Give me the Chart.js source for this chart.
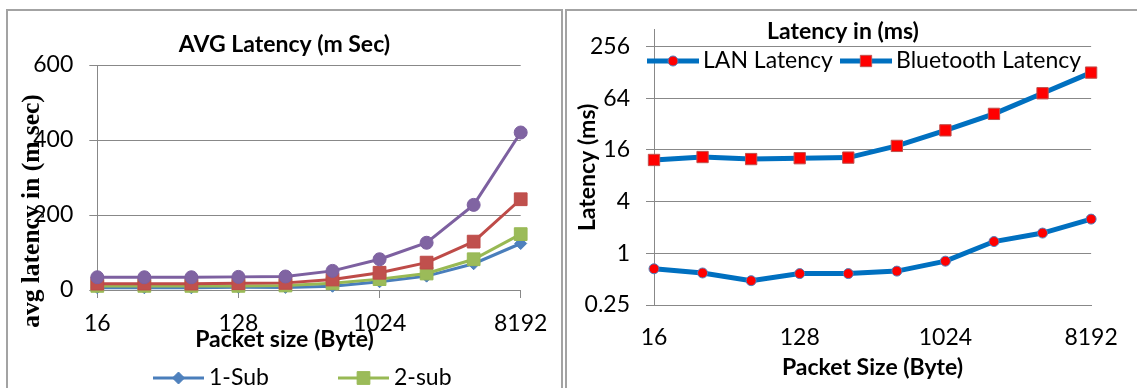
<!DOCTYPE html>
<html>
<head>
<meta charset="utf-8">
<script src="https://cdn.jsdelivr.net/npm/chart.js@4.4.1/dist/chart.umd.min.js"></script>
<style>
    html, body { margin: 0; padding: 0; background: #fff; width: 1137px; height: 388px; overflow: hidden; }
    .panel { position: absolute; border: 2px solid #a3a3a3; box-sizing: border-box; }
    #panelLeft  { left: 6px;   top: 9px; width: 557px; height: 440px; }
    #panelRight { left: 565px; top: 9px; width: 620px; height: 440px; }
    canvas { position: absolute; top: 0; }
    #avgChart { left: 8px; }
    #latChart { left: 566px; }
</style>
</head>
<body>
<div class="panel" id="panelLeft"></div>
<div class="panel" id="panelRight"></div>
<canvas id="avgChart" width="553" height="388"></canvas>
<canvas id="latChart" width="571" height="388"></canvas>
<script>
/* 패킷 크기별 지연 시간 차트 두 개 (좌: 구독자 수별 평균, 우: LAN vs Bluetooth 로그축) */

const packetSizes = ['16', '32', '64', '128', '256', '512', '1024', '2048', '4096', '8192'];

// 좌측 차트 (m sec)
const oneSub   = [6, 6, 6, 7, 7, 10, 22, 37, 70, 124];
const twoSub   = [11, 11, 11, 11, 12, 18, 29, 44, 82, 149];
const threeSub = [17, 17, 17, 18, 19, 28, 46, 73, 129, 242];
const fourSub  = [34, 34, 34, 35, 36, 51, 82, 126, 227, 420];
const avgTicks = [0, 200, 400, 600];

// 우측 차트 (ms, 로그 4배 간격)
const lanLatency = [0.66, 0.59, 0.48, 0.58, 0.58, 0.62, 0.81, 1.37, 1.72, 2.5];
const btLatency  = [12.2, 13.2, 12.5, 12.8, 13.0, 17.8, 27.0, 42, 73, 127];
const logTicks   = [0.25, 1, 4, 16, 64, 256];

const FONT = 'Lato, "Open Sans", sans-serif';
const GRID = '#888';
Chart.defaults.font.family = FONT;
Chart.defaults.color = '#000';

// x축: 3칸마다 라벨 (16, 128, 1024, 8192)
const showLabel = i => i % 3 === 0;

function drawMarker(ctx, style, x, y, r, fill, stroke, bw) {
    ctx.beginPath();
    if (style === 'circle') {
        ctx.arc(x, y, r, 0, Math.PI * 2);
    } else if (style === 'rect') {
        const s = r * Math.SQRT1_2;
        ctx.rect(x - s, y - s, 2 * s, 2 * s);
    } else {
        ctx.moveTo(x - r, y); ctx.lineTo(x, y - r); ctx.lineTo(x + r, y); ctx.lineTo(x, y + r);
        ctx.closePath();
    }
    ctx.fillStyle = fill;
    ctx.fill();
    if (bw) { ctx.lineWidth = bw; ctx.strokeStyle = stroke; ctx.stroke(); }
}

// 엑셀식 범례 (선 + 마커 + 텍스트), 데이터셋 스타일을 그대로 읽어옴
const lineLegend = {
    id: 'lineLegend',
    afterDraw(chart, args, opts) {
        const ctx = chart.ctx;
        (opts.items || []).forEach(it => {
            const ds = chart.data.datasets[it.ds];
            ctx.save();
            ctx.strokeStyle = ds.borderColor;
            ctx.lineWidth = ds.borderWidth;
            ctx.beginPath();
            ctx.moveTo(it.x, it.y);
            ctx.lineTo(it.x + opts.lineLen, it.y);
            ctx.stroke();
            drawMarker(ctx, ds.pointStyle, it.x + opts.lineLen / 2, it.y, ds.pointRadius,
                ds.pointBackgroundColor, ds.pointBorderColor, ds.pointBorderWidth);
            ctx.font = opts.font;
            ctx.fillStyle = '#000';
            ctx.textAlign = 'left';
            ctx.textBaseline = 'middle';
            ctx.fillText(ds.label, it.x + opts.lineLen + opts.gap, it.y);
            ctx.restore();
        });
    }
};

// 기본 배치로 맞출 수 없는 제목들
const freeText = {
    id: 'freeText',
    afterDraw(chart, args, opts) {
        const ctx = chart.ctx;
        (opts.items || []).forEach(t => {
            ctx.save();
            ctx.font = t.font;
            ctx.fillStyle = '#000';
            ctx.textAlign = 'center';
            ctx.textBaseline = 'middle';
            ctx.translate(t.x, t.y);
            if (t.rotate) ctx.rotate(t.rotate);
            ctx.fillText(t.text, 0, 0);
            ctx.restore();
        });
    }
};

const tickFont = { size: 23 };
const boldFont = { size: 23, weight: 'bold', lineHeight: 1.2 };
const boldCss = 'bold 23px ' + FONT;

/* ---------- 좌측: AVG Latency ---------- */
function subSet(label, data, line, fill, style, radius) {
    return {
        label, data,
        borderColor: line, borderWidth: 3,
        pointStyle: style, pointRadius: radius,
        pointBackgroundColor: fill, pointBorderColor: line, pointBorderWidth: 1,
        tension: 0, clip: false,
    };
}

new Chart(document.getElementById('avgChart'), {
    type: 'line',
    data: {
        labels: packetSizes,
        // 인덱스 0이 맨 위에 그려짐
        datasets: [
            subSet('4-sub', fourSub,  '#7D60A0', '#8064A2', 'circle', 6.5),
            subSet('3-sub', threeSub, '#BE4B48', '#C0504D', 'rect', 9),
            subSet('2-sub', twoSub,   '#98B954', '#9BBB59', 'rect', 9),
            subSet('1-Sub', oneSub,   '#4A7EBB', '#4F81BD', 'rectRot', 6),
        ]
    },
    plugins: [lineLegend, freeText],
    options: {
        responsive: false,
        animation: false,
        layout: { padding: { left: 0, right: 40.3, top: 65, bottom: 0 } },
        plugins: {
            legend: { display: false },
            tooltip: { enabled: false },
            freeText: {
                items: [
                    { text: 'AVG Latency (m Sec)', x: 276.5, y: 45, font: boldCss },
                    { text: 'Packet size (Byte)', x: 276.5, y: 340, font: boldCss },
                    { text: 'avg latency in (m sec)', x: 24, y: 211, rotate: -Math.PI / 2,
                      font: 'bold 25.5px "Liberation Serif", "Times New Roman", serif' }
                ]
            },
            lineLegend: {
                font: '23px ' + FONT, lineLen: 51, gap: 5,
                items: [{ ds: 3, x: 145, y: 378 }, { ds: 2, x: 330, y: 378 },
                        { ds: 1, x: 145, y: 414 }, { ds: 0, x: 330, y: 414 }]
            }
        },
        scales: {
            x: {
                grid: {
                    drawOnChartArea: false, tickLength: 8,
                    tickColor: c => showLabel(c.index) ? GRID : 'transparent'
                },
                border: { color: GRID },
                ticks: {
                    autoSkip: false, maxRotation: 0, minRotation: 0, padding: 11.7, font: tickFont,
                    callback: (v, i) => showLabel(i) ? packetSizes[i] : ''
                },
                afterFit: s => { s.height = 98; }
            },
            y: {
                min: avgTicks[0], max: avgTicks[avgTicks.length - 1],
                afterBuildTicks: s => { s.ticks = avgTicks.map(v => ({ value: v })); },
                grid: { color: GRID, tickLength: 8 },
                border: { color: GRID },
                ticks: { padding: 16, font: tickFont },
                afterFit: s => { s.width = 89.3; }
            }
        }
    }
});

/* ---------- 우측: LAN vs Bluetooth (로그축) ---------- */
const latSet = (label, data, style, radius, edge) => ({
    label, data,
    borderColor: '#0070C0', borderWidth: 5,
    pointStyle: style, pointRadius: radius,
    pointBackgroundColor: '#FF0000', pointBorderColor: edge, pointBorderWidth: 1,
    tension: 0, clip: false,
});

new Chart(document.getElementById('latChart'), {
    type: 'line',
    data: {
        labels: packetSizes,
        datasets: [
            latSet('LAN Latency', lanLatency, 'circle', 5, '#4F81BD'),
            latSet('Bluetooth Latency', btLatency, 'rect', 8, '#C0504D'),
        ]
    },
    plugins: [lineLegend, freeText],
    options: {
        responsive: false,
        animation: false,
        layout: { padding: { left: 0, right: 36, top: 26, bottom: 0 } },
        plugins: {
            legend: { display: false },
            tooltip: { enabled: false },
            freeText: {
                items: [{ text: 'Latency in (ms)', x: 277, y: 31.5, font: boldCss }]
            },
            lineLegend: {
                font: '23px ' + FONT, lineLen: 52, gap: 4,
                items: [{ ds: 0, x: 81, y: 61 }, { ds: 1, x: 274, y: 61 }]
            }
        },
        scales: {
            x: {
                grid: { drawOnChartArea: false, drawTicks: false },
                border: { color: GRID },
                ticks: {
                    autoSkip: false, maxRotation: 0, minRotation: 0, padding: 19.2, font: tickFont,
                    callback: (v, i) => showLabel(i) ? packetSizes[i] : ''
                },
                title: { display: true, text: 'Packet Size (Byte)', font: boldFont, padding: { top: 0, bottom: 6.2 } },
                afterFit: s => { s.height = 83; }
            },
            y: {
                type: 'logarithmic',
                min: logTicks[0], max: 400,
                afterBuildTicks: s => { s.ticks = logTicks.map(v => ({ value: v })); },
                grid: { color: GRID, tickLength: 8 },
                border: { color: GRID },
                ticks: { padding: 16, font: tickFont, callback: v => String(v) },
                title: { display: true, text: 'Latency (ms)', font: boldFont, padding: { top: 7.7, bottom: 0 } },
                afterFit: s => { s.width = 88; }
            }
        }
    }
});
</script>
</body>
</html>
